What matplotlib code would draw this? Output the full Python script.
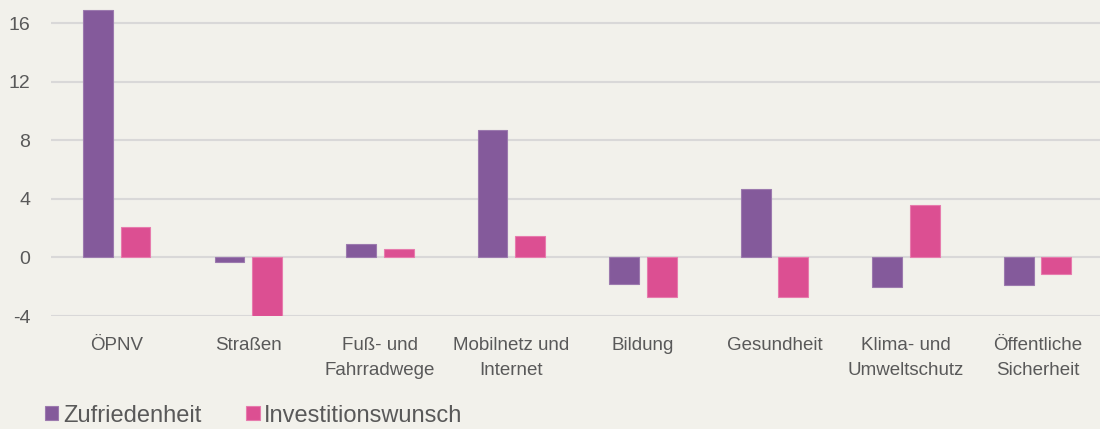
import matplotlib.pyplot as plt
import numpy as np

plt.rcParams['font.family'] = ['Liberation Sans', 'DejaVu Sans']

categories = ["ÖPNV", "Straßen", "Fuß- und\nFahrradwege", "Mobilnetz und\nInternet",
              "Bildung", "Gesundheit", "Klima- und\nUmweltschutz", "Öffentliche\nSicherheit"]
zufriedenheit = [16.9, -0.3, 0.9, 8.7, -1.8, 4.7, -2.0, -1.9]
investition = [2.1, -4.0, 0.6, 1.5, -2.7, -2.7, 3.6, -1.1]
yticks = [-4, 0, 4, 8, 12, 16]

bg = "#F2F1EB"
purple = "#845A9B"
pink = "#DC4F92"
txt = "#595959"

fig = plt.figure(figsize=(11, 4.29), dpi=100, facecolor=bg)
ax = fig.add_axes([0.0464, 0.2634, 0.9566, 0.7366], facecolor=bg)

x = np.arange(len(categories))
w = 0.226
off = 0.143
ax.bar(x - off, zufriedenheit, w, color=purple, edgecolor="#9C7AAE", linewidth=0.8,
       label="Zufriedenheit", zorder=3)
ax.bar(x + off, investition, w, color=pink, edgecolor="#E77BAD", linewidth=0.8,
       label="Investitionswunsch", zorder=3)

ax.set_xlim(-0.5, len(categories) - 0.5)
ax.set_ylim(-4, 17.6)
ax.set_yticks(yticks)
ax.set_yticklabels([str(v) for v in yticks], fontsize=14)
ax.set_xticks(x)
ax.set_xticklabels(categories, linespacing=1.6, fontsize=13.5)
ax.grid(axis="y", color="#D9D8D8", linewidth=1.5, zorder=0)
for s in ax.spines.values():
    s.set_visible(False)
ax.tick_params(axis="both", length=0, colors=txt)
ax.tick_params(axis="y", pad=15)
ax.tick_params(axis="x", pad=15)

fig.legend(loc="upper left", bbox_to_anchor=(0.041, 0.057), ncol=2, frameon=False,
           fontsize=17, labelcolor=txt, handlelength=0.56, handleheight=0.56,
           handletextpad=0.2, columnspacing=1.9, borderaxespad=0, borderpad=0)

plt.savefig("out.png", dpi=100, facecolor=bg)
